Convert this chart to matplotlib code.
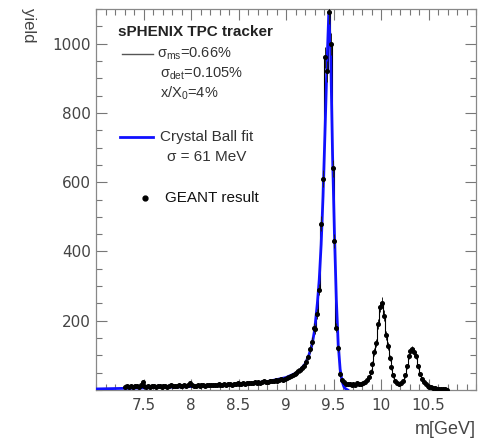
import numpy as np
import matplotlib
matplotlib.use("Agg")
import matplotlib.pyplot as plt
from matplotlib.ticker import MultipleLocator
from matplotlib.lines import Line2D

plt.rcParams["mathtext.fontset"] = "custom"
plt.rcParams["mathtext.rm"] = "Liberation Sans"
plt.rcParams["mathtext.it"] = "Liberation Sans"

# GEANT histogram, 0.02 GeV bins starting at 7.30 GeV
BIN_LO = 7.30
BIN_WIDTH = 0.02
geant_counts = [
    9, 11, 10, 12, 10, 11, 12, 10, 13, 22,
    12, 10, 11, 9, 12, 11, 10, 12, 11, 10,
    11, 12, 10, 11, 13, 12, 11, 12, 13, 12,
    11, 13, 12, 14, 21, 13, 12, 11, 13, 12,
    13, 14, 12, 13, 15, 14, 13, 15, 14, 16,
    15, 14, 16, 15, 17, 16, 15, 18, 17, 19,
    18, 17, 19, 18, 20, 19, 21, 20, 22, 21,
    22, 21, 23, 25, 24, 23, 26, 25, 27, 28,
    27, 29, 31, 30, 33, 36, 38, 40, 43, 46,
    50, 55, 58, 64, 70, 82, 95, 118, 140, 180,
    175, 220, 290, 480, 610, 960, 920, 1090, 1000, 640,
    430, 180, 120, 45, 30, 22, 18, 16, 18, 15,
    17, 15, 19, 16, 18, 20, 22, 28, 38, 52,
    75, 110, 135, 190, 240, 252, 215, 158, 128, 92,
    66, 42, 25, 19, 17, 20, 27, 42, 68, 98,
    112, 117, 110, 98, 68, 46, 33, 23, 16, 12,
    9, 8, 6, 5, 4, 4, 3, 2, 2, 1,
]

# Crystal Ball fit curve
fit_mass = [7.00, 7.50, 8.00, 8.50, 8.80, 9.00, 9.10, 9.15, 9.20, 9.24,
            9.27, 9.30, 9.33, 9.35, 9.37, 9.39, 9.41, 9.43, 9.45, 9.47,
            9.49, 9.51, 9.53, 9.55, 9.57, 9.59, 9.61, 9.63, 9.65]
fit_yield = [3, 6, 10, 16, 24, 36, 48, 58, 75, 100,
             126, 170, 250, 319, 420, 560, 740, 930, 1085, 980,
             680, 450, 260, 130, 60, 25, 9, 3, 0]

W, H = 487, 442


def fx(px):
    return px / W


def fy(py):
    return 1 - py / H


def main():
    fig = plt.figure(figsize=(W / 100, H / 100), dpi=100)
    ax = fig.add_axes([fx(96), fy(390), fx(476) - fx(96), fy(9) - fy(390)])

    counts = np.array(geant_counts, dtype=float)
    edges = BIN_LO + BIN_WIDTH * np.arange(len(counts) + 1)
    centers = 0.5 * (edges[:-1] + edges[1:])

    ax.stairs(counts, edges, color="black", lw=0.8, zorder=2)
    ax.plot(fit_mass, fit_yield, color="#1010ff", lw=2.0, zorder=3)
    ax.errorbar(centers, counts, yerr=np.sqrt(counts), fmt="o", ms=2.6,
                color="black", ecolor="#222222", elinewidth=0.7, capsize=0, zorder=4)

    ax.set_xlim(7.0, 11.0)
    ax.set_ylim(0, 1100)
    ax.xaxis.set_minor_locator(MultipleLocator(0.1))
    ax.yaxis.set_minor_locator(MultipleLocator(50))
    ax.set_xticks([7.5, 8, 8.5, 9, 9.5, 10, 10.5])
    ax.set_xticklabels(["7.5", "8", "8.5", "9", "9.5", "10", "10.5"])
    ax.set_yticks([200, 400, 600, 800, 1000])
    ax.tick_params(which="both", direction="in", top=True, right=True,
                   colors="#777777", labelcolor="#444444", labelsize=11)
    ax.tick_params(which="major", length=8, width=0.8)
    ax.tick_params(which="minor", length=4, width=0.8)
    ax.tick_params(axis="x", pad=6)
    for s in ax.spines.values():
        s.set_color("#888888")
        s.set_linewidth(0.9)

    font = "Liberation Sans"
    fig.text(fx(28), fy(8), "yield", rotation=270, ha="center", va="top",
             fontsize=12, color="#444444", family=font)
    fig.text(fx(476), fy(438), "m[GeV]", ha="right", va="bottom",
             fontsize=13, color="#444444", family=font)

    # legend block
    fig.text(fx(118), fy(32), "sPHENIX TPC tracker", ha="left", va="center",
             fontsize=11, fontweight="bold", color="#222222", family=font)
    fig.add_artist(Line2D([fx(122), fx(153)], [fy(54), fy(54)], color="#555555", lw=1.0))
    fig.text(fx(157), fy(54), r"$\mathrm{σ}_{\mathrm{ms}}$=0.66%", ha="left", va="center",
             fontsize=10.5, color="#333333", family=font)
    fig.text(fx(160), fy(74), r"$\mathrm{σ}_{\mathrm{det}}$=0.105%", ha="left", va="center",
             fontsize=10.5, color="#333333", family=font)
    fig.text(fx(160), fy(93), r"x/X$_{0}$=4%", ha="left", va="center",
             fontsize=10.5, color="#333333", family=font)
    fig.add_artist(Line2D([fx(120), fx(153)], [fy(137), fy(137)], color="#1010ff", lw=2.0))
    fig.text(fx(160), fy(137), "Crystal Ball fit", ha="left", va="center",
             fontsize=11, color="#333333", family=font)
    fig.text(fx(167), fy(157), "σ = 61 MeV", ha="left", va="center",
             fontsize=11, color="#333333", family=font)
    fig.add_artist(Line2D([fx(145)], [fy(198)], marker="o", ms=3.5, color="black", lw=0))
    fig.text(fx(165), fy(198), "GEANT result", ha="left", va="center",
             fontsize=11, color="#111111", family=font)

    fig.savefig("out.png", dpi=100)
    plt.close(fig)


if __name__ == "__main__":
    main()
